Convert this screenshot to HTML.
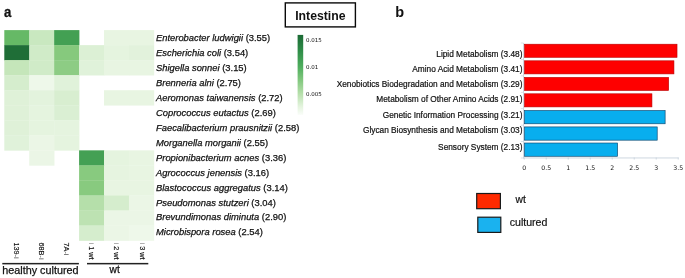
<!DOCTYPE html>
<html lang="en"><head><meta charset="utf-8"><title>Intestine figure</title>
<style>html,body{margin:0;padding:0;background:#fff}body{width:685px;height:278px;overflow:hidden}svg{display:block}text{font-family:"Liberation Sans",sans-serif;fill:#111}.dj{font-family:"DejaVu Sans","Liberation Sans",sans-serif}.it{font-style:italic}.b{font-weight:bold}</style></head><body>
<svg width="685" height="278" viewBox="0 0 685 278">
<rect width="685" height="278" fill="#fff"/>
<g shape-rendering="auto">
<rect x="4.30" y="30.10" width="25.23" height="15.33" fill="#66b966"/>
<rect x="29.23" y="30.10" width="25.23" height="15.33" fill="#c9e8c0"/>
<rect x="54.16" y="30.10" width="25.23" height="15.33" fill="#43a053"/>
<rect x="104.02" y="30.10" width="25.23" height="15.33" fill="#e8f5e2"/>
<rect x="128.95" y="30.10" width="25.23" height="15.33" fill="#e8f5e2"/>
<rect x="4.30" y="45.13" width="25.23" height="15.33" fill="#1f6e37"/>
<rect x="29.23" y="45.13" width="25.23" height="15.33" fill="#d0ebc8"/>
<rect x="54.16" y="45.13" width="25.23" height="15.33" fill="#86c97d"/>
<rect x="79.09" y="45.13" width="25.23" height="15.33" fill="#dcf0d5"/>
<rect x="104.02" y="45.13" width="25.23" height="15.33" fill="#e5f4df"/>
<rect x="128.95" y="45.13" width="25.23" height="15.33" fill="#e2f2dc"/>
<rect x="4.30" y="60.16" width="25.23" height="15.33" fill="#c5e6ba"/>
<rect x="29.23" y="60.16" width="25.23" height="15.33" fill="#d0ebc8"/>
<rect x="54.16" y="60.16" width="25.23" height="15.33" fill="#8dcc84"/>
<rect x="79.09" y="60.16" width="25.23" height="15.33" fill="#e0f2da"/>
<rect x="104.02" y="60.16" width="25.23" height="15.33" fill="#e8f5e2"/>
<rect x="128.95" y="60.16" width="25.23" height="15.33" fill="#e8f5e2"/>
<rect x="4.30" y="75.19" width="25.23" height="15.33" fill="#d5edcd"/>
<rect x="29.23" y="75.19" width="25.23" height="15.33" fill="#eef8ea"/>
<rect x="54.16" y="75.19" width="25.23" height="15.33" fill="#e0f2da"/>
<rect x="4.30" y="90.22" width="25.23" height="15.33" fill="#dff1d8"/>
<rect x="29.23" y="90.22" width="25.23" height="15.33" fill="#e3f3dd"/>
<rect x="54.16" y="90.22" width="25.23" height="15.33" fill="#d8eed0"/>
<rect x="104.02" y="90.22" width="25.23" height="15.33" fill="#e8f5e2"/>
<rect x="128.95" y="90.22" width="25.23" height="15.33" fill="#e8f5e2"/>
<rect x="4.30" y="105.25" width="25.23" height="15.33" fill="#dff1d8"/>
<rect x="29.23" y="105.25" width="25.23" height="15.33" fill="#e5f4df"/>
<rect x="54.16" y="105.25" width="25.23" height="15.33" fill="#daefd3"/>
<rect x="4.30" y="120.28" width="25.23" height="15.33" fill="#dff1d8"/>
<rect x="29.23" y="120.28" width="25.23" height="15.33" fill="#e5f4df"/>
<rect x="54.16" y="120.28" width="25.23" height="15.33" fill="#e5f4df"/>
<rect x="4.30" y="135.31" width="25.23" height="15.33" fill="#e0f2da"/>
<rect x="29.23" y="135.31" width="25.23" height="15.33" fill="#ebf6e6"/>
<rect x="54.16" y="135.31" width="25.23" height="15.33" fill="#e5f4df"/>
<rect x="29.23" y="150.34" width="25.23" height="15.33" fill="#ebf6e6"/>
<rect x="79.09" y="150.34" width="25.23" height="15.33" fill="#44a054"/>
<rect x="104.02" y="150.34" width="25.23" height="15.33" fill="#e5f4df"/>
<rect x="128.95" y="150.34" width="25.23" height="15.33" fill="#e8f5e2"/>
<rect x="79.09" y="165.37" width="25.23" height="15.33" fill="#88ca7f"/>
<rect x="104.02" y="165.37" width="25.23" height="15.33" fill="#e6f4e0"/>
<rect x="128.95" y="165.37" width="25.23" height="15.33" fill="#e8f5e2"/>
<rect x="79.09" y="180.40" width="25.23" height="15.33" fill="#88ca7f"/>
<rect x="104.02" y="180.40" width="25.23" height="15.33" fill="#e8f5e2"/>
<rect x="128.95" y="180.40" width="25.23" height="15.33" fill="#e8f5e2"/>
<rect x="79.09" y="195.43" width="25.23" height="15.33" fill="#b5dfaa"/>
<rect x="104.02" y="195.43" width="25.23" height="15.33" fill="#d5edcd"/>
<rect x="128.95" y="195.43" width="25.23" height="15.33" fill="#ebf6e6"/>
<rect x="79.09" y="210.46" width="25.23" height="15.33" fill="#bde2b2"/>
<rect x="104.02" y="210.46" width="25.23" height="15.33" fill="#ebf6e6"/>
<rect x="128.95" y="210.46" width="25.23" height="15.33" fill="#ebf6e6"/>
<rect x="79.09" y="225.49" width="25.23" height="15.33" fill="#d5edcd"/>
<rect x="104.02" y="225.49" width="25.23" height="15.33" fill="#ebf6e6"/>
<rect x="128.95" y="225.49" width="25.23" height="15.33" fill="#eef8ea"/>
</g>
<text x="156" y="41.30" font-size="9.38" stroke="#111" stroke-width="0.25"><tspan class="it">Enterobacter ludwigii</tspan> (3.55)</text>
<text x="156" y="56.23" font-size="9.38" stroke="#111" stroke-width="0.25"><tspan class="it">Escherichia coli</tspan> (3.54)</text>
<text x="156" y="71.16" font-size="9.38" stroke="#111" stroke-width="0.25"><tspan class="it">Shigella sonnei</tspan> (3.15)</text>
<text x="156" y="86.09" font-size="9.38" stroke="#111" stroke-width="0.25"><tspan class="it">Brenneria alni</tspan> (2.75)</text>
<text x="156" y="101.02" font-size="9.38" stroke="#111" stroke-width="0.25"><tspan class="it">Aeromonas taiwanensis</tspan> (2.72)</text>
<text x="156" y="115.95" font-size="9.38" stroke="#111" stroke-width="0.25"><tspan class="it">Coprococcus eutactus</tspan> (2.69)</text>
<text x="156" y="130.88" font-size="9.38" stroke="#111" stroke-width="0.25"><tspan class="it">Faecalibacterium prausnitzii</tspan> (2.58)</text>
<text x="156" y="145.81" font-size="9.38" stroke="#111" stroke-width="0.25"><tspan class="it">Morganella morganii</tspan> (2.55)</text>
<text x="156" y="160.74" font-size="9.38" stroke="#111" stroke-width="0.25"><tspan class="it">Propionibacterium acnes</tspan> (3.36)</text>
<text x="156" y="175.67" font-size="9.38" stroke="#111" stroke-width="0.25"><tspan class="it">Agrococcus jenensis</tspan> (3.16)</text>
<text x="156" y="190.60" font-size="9.38" stroke="#111" stroke-width="0.25"><tspan class="it">Blastococcus aggregatus</tspan> (3.14)</text>
<text x="156" y="205.53" font-size="9.38" stroke="#111" stroke-width="0.25"><tspan class="it">Pseudomonas stutzeri</tspan> (3.04)</text>
<text x="156" y="220.46" font-size="9.38" stroke="#111" stroke-width="0.25"><tspan class="it">Brevundimonas diminuta</tspan> (2.90)</text>
<text x="156" y="235.39" font-size="9.38" stroke="#111" stroke-width="0.25"><tspan class="it">Microbispora rosea</tspan> (2.54)</text>
<text transform="translate(13.8,242.5) rotate(90)" font-size="7.3" stroke="#111" stroke-width="0.15">139<tspan fill="#555" stroke="none">-i</tspan></text>
<text transform="translate(39.2,242.5) rotate(90)" font-size="7.3" stroke="#111" stroke-width="0.15">68B<tspan fill="#555" stroke="none">-i</tspan></text>
<text transform="translate(64.1,242.5) rotate(90)" font-size="7.3" stroke="#111" stroke-width="0.15">7A<tspan fill="#555" stroke="none">-i</tspan></text>
<text transform="translate(89.1,242.6) rotate(90)" font-size="7.3" stroke="#111" stroke-width="0.15"><tspan fill="#999" stroke="none">i</tspan> 1 wt</text>
<text transform="translate(114.4,242.6) rotate(90)" font-size="7.3" stroke="#111" stroke-width="0.15"><tspan fill="#999" stroke="none">i</tspan> 2 wt</text>
<text transform="translate(139.7,242.6) rotate(90)" font-size="7.3" stroke="#111" stroke-width="0.15"><tspan fill="#999" stroke="none">i</tspan> 3 wt</text>
<rect x="2.3" y="262.9" width="76.6" height="1.5" fill="#222"/>
<rect x="87" y="262.9" width="61.3" height="1.5" fill="#222"/>
<text x="2.3" y="273.5" font-size="10.8" stroke="#111" stroke-width="0.25">healthy cultured</text>
<text x="109.6" y="273.4" font-size="10.2" stroke="#111" stroke-width="0.25">wt</text>
<text class="b" transform="translate(3.9,16.55) scale(0.88,1)" font-size="15" stroke="#111" stroke-width="0.3">a</text>
<text class="b" x="395.2" y="17" font-size="14.5">b</text>
<rect x="285.3" y="2.9" width="70.1" height="24.0" fill="#fff" stroke="#0a0a0a" stroke-width="1.4"/>
<text class="b" x="295.2" y="19.8" font-size="12.25">Intestine</text>
<defs><linearGradient id="cb" x1="0" y1="0" x2="0" y2="1"><stop offset="0" stop-color="#1b6a35"/><stop offset="0.2" stop-color="#2f8d48"/><stop offset="0.4" stop-color="#4fae5e"/><stop offset="0.56" stop-color="#80c77d"/><stop offset="0.73" stop-color="#b5dfaa"/><stop offset="0.9" stop-color="#e5f4df"/><stop offset="1" stop-color="#fafdf9"/></linearGradient></defs>
<rect x="297.6" y="34.9" width="5.6" height="80" fill="url(#cb)"/>
<text class="dj" x="306" y="42.4" font-size="5.5" fill="#222">0.015</text>
<text class="dj" x="306" y="69.0" font-size="5.5" fill="#222">0.01</text>
<text class="dj" x="306" y="95.6" font-size="5.5" fill="#222">0.005</text>
<rect x="523.0" y="43" width="0.9" height="115.4" fill="#c9d3dd"/>
<rect x="523.0" y="157.5" width="155.6" height="0.9" fill="#c9d3dd"/>
<rect x="520.8" y="42.60" width="2.6" height="0.8" fill="#d3dbe3"/>
<rect x="520.8" y="59.03" width="2.6" height="0.8" fill="#d3dbe3"/>
<rect x="520.8" y="75.46" width="2.6" height="0.8" fill="#d3dbe3"/>
<rect x="520.8" y="91.89" width="2.6" height="0.8" fill="#d3dbe3"/>
<rect x="520.8" y="108.32" width="2.6" height="0.8" fill="#d3dbe3"/>
<rect x="520.8" y="124.75" width="2.6" height="0.8" fill="#d3dbe3"/>
<rect x="520.8" y="141.18" width="2.6" height="0.8" fill="#d3dbe3"/>
<rect x="520.8" y="157.61" width="2.6" height="0.8" fill="#d3dbe3"/>
<rect x="523.75" y="157.5" width="0.9" height="2.0" fill="#c9d3dd"/>
<text class="dj" x="524.20" y="169.6" font-size="6.2" text-anchor="middle" fill="#444">0</text>
<rect x="545.75" y="157.5" width="0.9" height="2.0" fill="#c9d3dd"/>
<text class="dj" x="546.20" y="169.6" font-size="6.2" text-anchor="middle" fill="#444">0.5</text>
<rect x="567.75" y="157.5" width="0.9" height="2.0" fill="#c9d3dd"/>
<text class="dj" x="568.20" y="169.6" font-size="6.2" text-anchor="middle" fill="#444">1</text>
<rect x="589.75" y="157.5" width="0.9" height="2.0" fill="#c9d3dd"/>
<text class="dj" x="590.20" y="169.6" font-size="6.2" text-anchor="middle" fill="#444">1.5</text>
<rect x="611.75" y="157.5" width="0.9" height="2.0" fill="#c9d3dd"/>
<text class="dj" x="612.20" y="169.6" font-size="6.2" text-anchor="middle" fill="#444">2</text>
<rect x="633.75" y="157.5" width="0.9" height="2.0" fill="#c9d3dd"/>
<text class="dj" x="634.20" y="169.6" font-size="6.2" text-anchor="middle" fill="#444">2.5</text>
<rect x="655.75" y="157.5" width="0.9" height="2.0" fill="#c9d3dd"/>
<text class="dj" x="656.20" y="169.6" font-size="6.2" text-anchor="middle" fill="#444">3</text>
<rect x="677.75" y="157.5" width="0.9" height="2.0" fill="#c9d3dd"/>
<text class="dj" x="678.20" y="169.6" font-size="6.2" text-anchor="middle" fill="#444">3.5</text>
<rect x="524.50" y="44.20" width="152.52" height="13.10" fill="#fe0000" stroke="#b80000" stroke-width="0.6"/>
<text x="522.5" y="57.0" font-size="8.3" stroke="#111" stroke-width="0.2" text-anchor="end">Lipid Metabolism (3.48)</text>
<rect x="524.50" y="60.80" width="149.44" height="13.10" fill="#fe0000" stroke="#b80000" stroke-width="0.6"/>
<text x="522.5" y="71.6" font-size="8.3" stroke="#111" stroke-width="0.2" text-anchor="end">Amino Acid Metabolism (3.41)</text>
<rect x="524.50" y="77.40" width="144.16" height="13.10" fill="#fe0000" stroke="#b80000" stroke-width="0.6"/>
<text x="522.5" y="87.1" font-size="8.3" stroke="#111" stroke-width="0.2" text-anchor="end">Xenobiotics Biodegradation and Metabolism (3.29)</text>
<rect x="524.50" y="93.80" width="127.44" height="13.10" fill="#fe0000" stroke="#b80000" stroke-width="0.6"/>
<text x="522.5" y="101.8" font-size="8.3" stroke="#111" stroke-width="0.2" text-anchor="end">Metabolism of Other Amino Acids (2.91)</text>
<rect x="524.53" y="110.53" width="140.59" height="13.25" fill="#08aeee" stroke="#0e466e" stroke-width="0.65"/>
<text x="522.5" y="117.5" font-size="8.3" stroke="#111" stroke-width="0.2" text-anchor="end">Genetic Information Processing (3.21)</text>
<rect x="524.53" y="126.92" width="132.67" height="13.25" fill="#08aeee" stroke="#0e466e" stroke-width="0.65"/>
<text x="522.5" y="133.3" font-size="8.3" stroke="#111" stroke-width="0.2" text-anchor="end">Glycan Biosynthesis and Metabolism (3.03)</text>
<rect x="524.53" y="143.02" width="93.07" height="13.25" fill="#08aeee" stroke="#0e466e" stroke-width="0.65"/>
<text x="522.5" y="149.6" font-size="8.3" stroke="#111" stroke-width="0.2" text-anchor="end">Sensory System (2.13)</text>
<rect x="476.7" y="193.5" width="23.7" height="15.2" fill="#ff2a00" stroke="#1a1a1a" stroke-width="1.2"/>
<rect x="477.8" y="217.2" width="23" height="15.2" fill="#1ab2ef" stroke="#1a1a1a" stroke-width="1.2"/>
<text x="515.6" y="202.7" font-size="10.3" stroke="#111" stroke-width="0.2">wt</text>
<text x="509.7" y="225.8" font-size="10.6" stroke="#111" stroke-width="0.2">cultured</text>
</svg></body></html>
